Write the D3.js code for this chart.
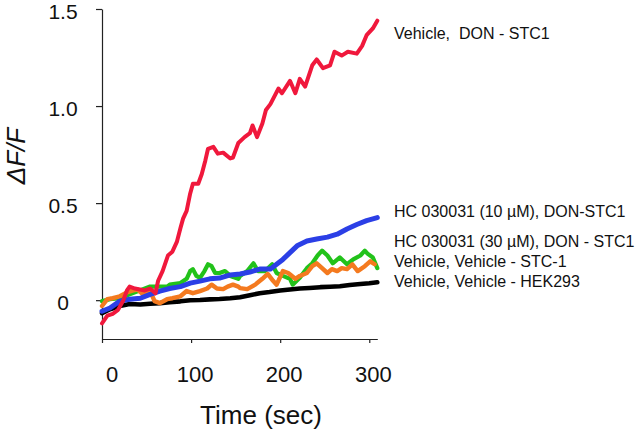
<!DOCTYPE html>
<html>
<head>
<meta charset="utf-8">
<script src="https://cdn.jsdelivr.net/npm/d3@7/dist/d3.min.js"></script>
<style>
  html, body { margin: 0; padding: 0; background: #fff; }
  svg { display: block; font-family: "Liberation Sans", Arial, sans-serif; }
</style>
</head>
<body>
<svg id="chart" width="640" height="434"></svg>
<script>
// ---- data (time in sec, ΔF/F) ----
const redT = [0,6,12,18,24,28,31,37,48,54,60,63,68,74,79,84,88,91,95,99,102,108,112,116,119,125,130,136,144,147,153,160,166,169,174,180,184,189,198,202,211,217,222,228,236,241,248,256,261,269,276,286,292,297,304,309];
const redV = [-0.12,-0.08,-0.07,-0.05,0.0,0.05,0.07,0.06,0.05,0.06,0.035,0.1,0.15,0.23,0.25,0.3,0.37,0.42,0.46,0.55,0.6,0.6,0.65,0.72,0.78,0.79,0.755,0.76,0.73,0.735,0.81,0.84,0.86,0.9,0.84,0.91,0.98,1.01,1.09,1.066,1.13,1.066,1.14,1.1,1.21,1.24,1.195,1.21,1.28,1.26,1.28,1.27,1.31,1.365,1.40,1.44];

const blueT = [0,9,20,31,43,54,65,76,88,99,110,121,132,144,155,166,177,189,196,203,211,219,230,241,253,264,275,286,297,309];
const blueV = [-0.057,-0.04,-0.005,0.005,0.01,0.03,0.047,0.06,0.07,0.088,0.098,0.11,0.114,0.13,0.135,0.145,0.16,0.16,0.185,0.21,0.245,0.28,0.305,0.315,0.325,0.34,0.367,0.39,0.41,0.425];

const greenT = [0,9,20,31,54,73,76,88,95,99,102,106,110,115,119,123,127,132,138,144,153,155,163,170,175,183,191,196,203,211,214,222,230,236,242,247,253,259,267,275,282,290,295,298,304,309];
const greenV = [-0.005,0.005,0.01,0.03,0.07,0.07,0.08,0.088,0.11,0.15,0.16,0.125,0.115,0.15,0.185,0.175,0.14,0.14,0.15,0.125,0.11,0.125,0.15,0.19,0.15,0.15,0.185,0.14,0.125,0.11,0.08,0.115,0.165,0.19,0.23,0.255,0.23,0.19,0.22,0.185,0.21,0.23,0.255,0.24,0.22,0.165];

const orangeT = [0,6,12,20,28,35,40,46,54,59,65,73,79,88,95,102,110,118,123,129,136,141,147,153,155,163,172,180,186,192,196,203,209,217,222,230,236,241,247,253,258,264,269,275,281,287,295,301,306];
const orangeV = [-0.03,0.005,0.01,0.02,0.04,0.05,0.055,0.03,0.047,-0.005,-0.015,0.005,0.01,0.02,0.047,0.036,0.047,0.06,0.08,0.06,0.057,0.07,0.08,0.07,0.062,0.057,0.08,0.11,0.135,0.1,0.08,0.15,0.14,0.11,0.125,0.14,0.175,0.19,0.165,0.14,0.16,0.15,0.165,0.16,0.185,0.15,0.175,0.2,0.185];

const blackT = [0,9,20,31,43,54,65,76,88,99,110,121,132,144,155,166,177,188,200,211,222,233,245,256,267,278,290,300,309];
const blackV = [-0.067,-0.047,-0.03,-0.02,-0.022,-0.018,-0.015,-0.01,-0.006,0.0,0.001,0.004,0.006,0.01,0.015,0.025,0.036,0.042,0.05,0.055,0.06,0.063,0.067,0.069,0.072,0.078,0.083,0.087,0.092];

const seriesNames = ["Vehicle,  DON - STC1", "HC 030031 (10 \u00b5M), DON-STC1", "HC 030031 (30 \u00b5M), DON - STC1", "Vehicle, Vehicle - STC-1", "Vehicle, Vehicle - HEK293"];
const xTicks = [0, 100, 200, 300];
const yTicks = [0, 0.5, 1.0, 1.5];
const yTickLabels = ["0", "0.5", "1.0", "1.5"];

// ---- layout ----
const svg = d3.select("#chart");
svg.append("rect").attr("width", 640).attr("height", 434).attr("fill", "#fff");

const x = d3.scaleLinear().domain([0, 309]).range([102, 377.3]);
const y = d3.scaleLinear().domain([-0.2, 1.5]).range([339, 9]);

// axes
const gx = svg.append("g").attr("transform", "translate(0,339)")
  .call(d3.axisBottom(x).tickValues(xTicks).tickSize(4).tickSizeOuter(0).tickFormat(""));
const gy = svg.append("g").attr("transform", "translate(102,0)")
  .call(d3.axisLeft(y).tickValues(yTicks).tickSize(6).tickSizeOuter(0).tickFormat(""));
[gx, gy].forEach(g => {
  g.select(".domain").attr("stroke", "#222").attr("stroke-width", 1.2);
  g.selectAll(".tick line").attr("stroke", "#222").attr("stroke-width", 1.2);
});

svg.append("g").selectAll("text").data(xTicks).join("text")
  .attr("x", d => x(d) + (d === 0 ? 10 : 4))
  .attr("y", 382)
  .attr("text-anchor", "middle")
  .attr("font-size", 22)
  .attr("fill", "#111")
  .text(d => d);

svg.append("g").selectAll("text").data(yTicks).join("text")
  .attr("x", 63)
  .attr("y", d => y(d) + 10)
  .attr("text-anchor", "middle")
  .attr("font-size", 21)
  .attr("fill", "#111")
  .text((d, i) => yTickLabels[i]);

svg.append("text")
  .attr("x", 261).attr("y", 424)
  .attr("text-anchor", "middle")
  .attr("font-size", 26)
  .attr("fill", "#111")
  .text("Time (sec)");

svg.append("text")
  .attr("transform", "translate(25,156) rotate(-90)")
  .attr("text-anchor", "middle")
  .attr("font-size", 26)
  .attr("font-style", "italic")
  .attr("fill", "#111")
  .text("\u0394F/F");

// series
const series = [
  { t: blackT, v: blackV, color: "#000000", w: 4.6 },
  { t: greenT, v: greenV, color: "#22c21a", w: 4.2 },
  { t: orangeT, v: orangeV, color: "#f47a1f", w: 4.4 },
  { t: blueT, v: blueV, color: "#2b3fe6", w: 5 },
  { t: redT, v: redV, color: "#f0183c", w: 4 }
];
const line = d3.line().x(d => x(d[0])).y(d => y(d[1]));
series.forEach(s => {
  const pts = s.t.map((t, i) => [t, s.v[i]]);
  svg.append("path")
    .attr("d", line(pts))
    .attr("fill", "none")
    .attr("stroke", s.color)
    .attr("stroke-width", s.w)
    .attr("stroke-linejoin", "round")
    .attr("stroke-linecap", "round");
});

// direct labels
const labelY = [39, 217, 247, 267, 287];
svg.append("g").selectAll("text").data(seriesNames).join("text")
  .attr("x", 394)
  .attr("y", (d, i) => labelY[i])
  .attr("font-size", 16)
  .attr("fill", "#111")
  .style("white-space", "pre")
  .text(d => d);
</script>
</body>
</html>
